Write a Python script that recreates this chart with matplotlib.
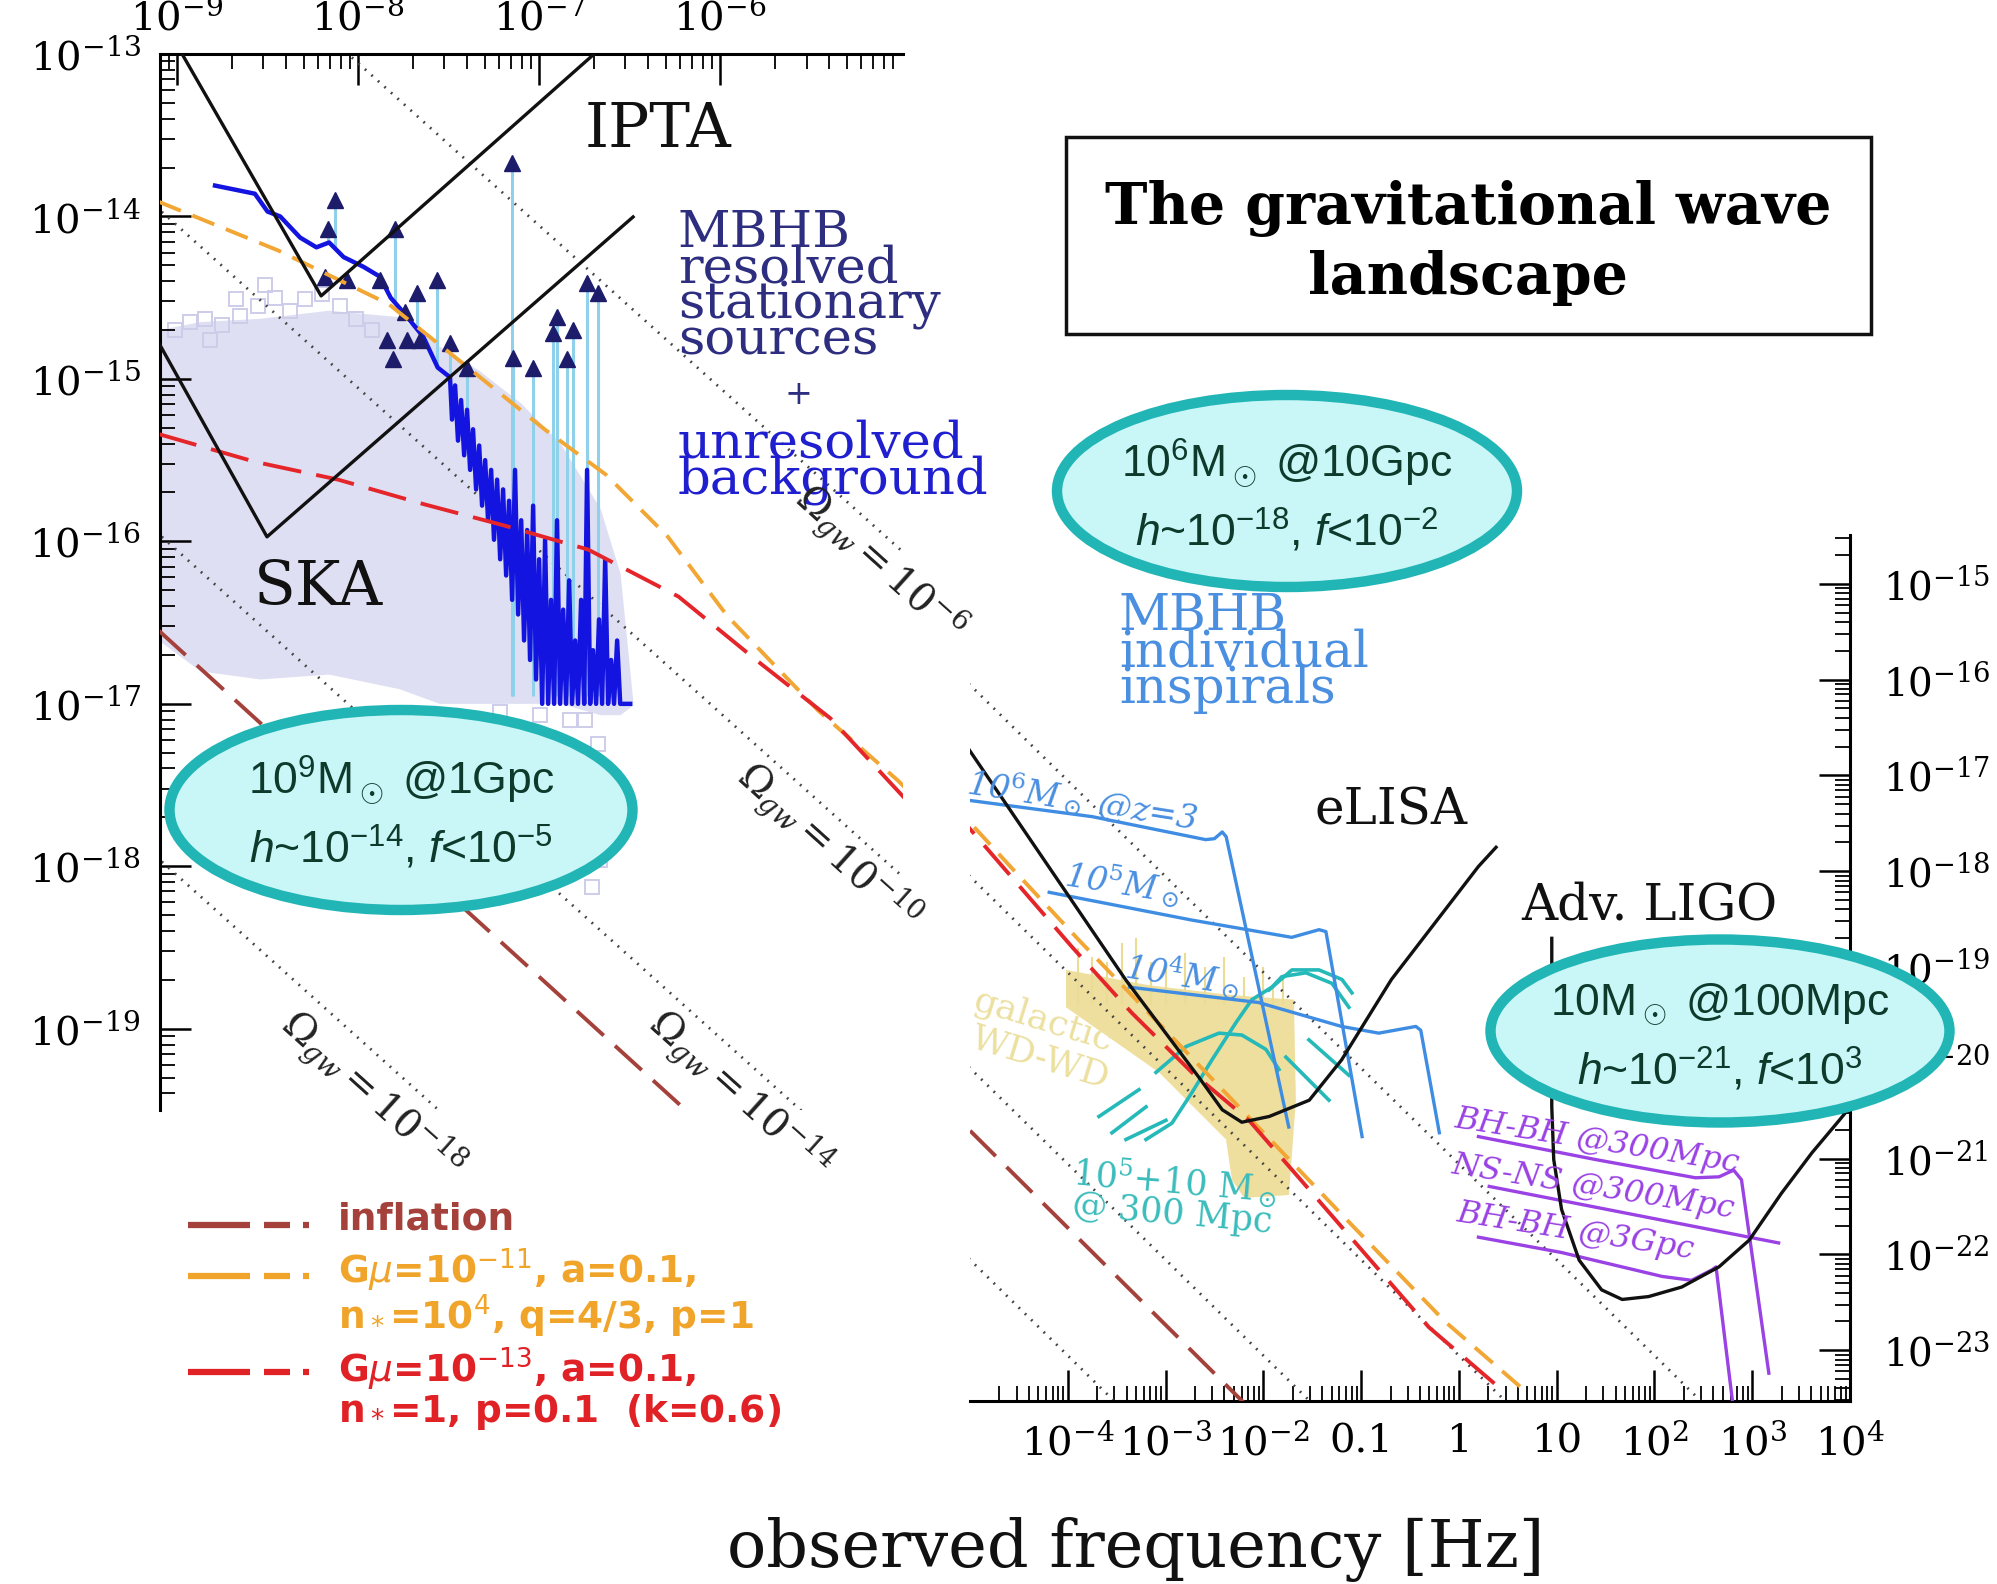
import numpy as np
import matplotlib
matplotlib.use('Agg')
import matplotlib.pyplot as plt
from matplotlib.patches import Ellipse, Rectangle
from matplotlib.ticker import FixedLocator, FixedFormatter, LogLocator, NullFormatter

plt.rcParams['font.family'] = ['DejaVu Serif']
plt.rcParams['mathtext.fontset'] = 'dejavuserif'
plt.rcParams['mathtext.rm'] = 'Liberation Sans'
plt.rcParams['mathtext.it'] = 'Liberation Sans:italic'
plt.rcParams['mathtext.bf'] = 'Liberation Sans:bold'
plt.rcParams['lines.scale_dashes'] = False

W, H = 1997, 1584

# ---- data (log10 of frequency [Hz] and characteristic strain) ----
# lines of constant Omega_gw (h ~ 1/f), values at the two ends
omega_f = [1e-10, 1e5]
omega_h = [[8.8e-12, 8.8e-27], [8.8e-14, 8.8e-29], [8.8e-16, 8.8e-31], [8.8e-18, 8.8e-33]]
omega_names = ['10^{-6}', '10^{-10}', '10^{-14}', '10^{-18}']

infl_lf = [-9.1, -2.0]
infl_lh = [-16.55, -23.75]

orng_lf = [-9.10, -8.44, -7.83, -7.37, -6.97, -6.63, -6.29, -5.96, -5.46, -5.02, -4.57, -3.885, -2.249, -1.145, -0.143, 0.716]
orng_lh = [-13.91, -14.21, -14.54, -14.95, -15.31, -15.59, -15.97, -16.46, -17.04, -17.47, -17.97, -18.72, -20.46, -21.64, -22.70, -23.46]

red_lf = [-9.10, -8.57, -8.11, -7.64, -7.20, -6.73, -6.23, -5.79, -5.39, -4.99, -3.957, -3.344, -2.730, -2.147, -0.307, 0.48]
red_lh = [-15.34, -15.51, -15.62, -15.77, -15.90, -16.05, -16.34, -16.74, -17.09, -17.57, -18.79, -19.48, -20.10, -20.60, -22.76, -23.45]

# PTA sensitivities
ipta_lf = [-8.972, -8.204, -6.696]
ipta_lh = [-13.0, -14.489, -13.0]
ska_lf = [-9.20, -8.503, -6.481]
ska_lh = [-14.58, -15.972, -14.003]

# unresolved MBHB population cloud
lav_lf = [-9.10, -8.87, -8.54, -8.16, -7.77, -7.55, -7.33, -7.10, -6.88, -6.66, -6.55, -6.48]
lav_up = [-14.70, -14.65, -14.63, -14.58, -14.62, -14.80, -14.95, -15.15, -15.40, -15.80, -16.20, -16.98]
lav_lo = [-16.61, -16.80, -16.85, -16.82, -16.91, -17.00, -17.00, -17.00, -17.00, -17.07, -17.07, -17.01]
sq_lf = [-9.011, -8.928, -8.845, -8.751, -8.652, -8.552, -8.459, -8.376, -8.293, -8.199, -8.099, -8.011,
         -7.923, -8.674, -8.514, -8.818, -6.746, -6.674, -6.635, -6.718, -6.608, -6.691, -6.663, -6.707,
         -6.829, -6.994, -7.215]
sq_lh = [-14.70, -14.65, -14.63, -14.67, -14.61, -14.55, -14.50, -14.58, -14.51, -14.48, -14.55, -14.63,
         -14.70, -14.51, -14.42, -14.76, -17.10, -17.25, -17.41, -17.53, -17.59, -17.81, -17.96, -18.13,
         -17.10, -17.07, -17.05]

# MBHB spectrum (unresolved background, jagged at high f)
bg_lf = [-8.79, -8.57, -8.50, -8.43, -8.32, -8.23, -8.16, -8.08, -7.97, -7.88, -7.82, -7.75, -7.64, -7.56, -7.492,
         -7.481, -7.464, -7.448, -7.431, -7.414, -7.398, -7.381, -7.365, -7.348, -7.331, -7.315, -7.298,
         -7.282, -7.265, -7.249, -7.232, -7.215, -7.199, -7.182, -7.166, -7.149, -7.133, -7.116, -7.099,
         -7.083, -7.066, -7.050, -7.033, -7.017, -7.000, -6.983, -6.967, -6.950, -6.934, -6.917, -6.901,
         -6.884, -6.867, -6.851, -6.834, -6.818, -6.801, -6.785, -6.768, -6.751, -6.735, -6.718, -6.702,
         -6.685, -6.669, -6.652, -6.635, -6.619, -6.602, -6.586, -6.569, -6.552, -6.497]
bg_lh = [-13.81, -13.86, -13.97, -14.00, -14.13, -14.19, -14.16, -14.25, -14.31, -14.37, -14.50, -14.59, -14.74, -14.93, -14.99,
         -15.25, -15.04, -15.38, -15.13, -15.47, -15.19, -15.56, -15.31, -15.68, -15.41, -15.78, -15.50,
         -15.87, -15.56, -15.99, -15.62, -16.11, -15.68, -16.21, -15.75, -16.36, -15.56, -16.45, -15.87,
         -16.61, -15.93, -16.73, -15.78, -16.85, -16.11, -17.00, -15.99, -17.00, -16.36, -17.00, -15.87,
         -17.00, -16.42, -17.00, -16.24, -17.00, -16.61, -17.00, -16.36, -17.00, -15.56, -17.00, -16.67,
         -17.00, -16.48, -17.00, -16.11, -17.00, -16.73, -17.00, -16.61, -17.00, -17.00]

# resolved MBHB sources (triangles) and where their stems end
tri_lf = [-8.127, -8.166, -7.796, -8.182, -8.061, -7.878, -7.564, -7.674, -7.740, -7.840, -7.729, -7.657,
          -7.807, -7.492, -7.144, -7.033, -7.398, -6.901, -6.923, -6.812, -6.845, -6.735, -6.674, -7.149]
tri_lh = [-13.90, -14.08, -14.08, -14.37, -14.39, -14.39, -14.39, -14.47, -14.59, -14.76, -14.76, -14.76,
          -14.88, -14.78, -14.87, -14.93, -14.93, -14.62, -14.72, -14.70, -14.88, -14.41, -14.47, -13.67]
tri_base = [-14.19, -14.17, -14.52, -14.37, -14.39, -14.39, -14.93, -14.70, -14.60, -14.76, -14.76, -14.76,
            -14.88, -15.00, -16.95, -16.95, -15.40, -16.95, -16.95, -16.95, -16.95, -16.95, -16.95, -16.95]

# eLISA and Adv. LIGO sensitivities
elisa_lf = [-5.01, -3.41, -2.66, -2.42, -2.22, -1.94, -1.53, -1.20, -0.69, 0.20, 0.38]
elisa_lh = [-16.73, -19.13, -20.15, -20.49, -20.62, -20.56, -20.39, -19.97, -19.13, -17.95, -17.75]
ligo_lf = [0.95, 0.95, 0.97, 1.05, 1.23, 1.46, 1.67, 1.94, 2.28, 2.66, 2.97, 3.30, 3.61, 3.89, 4.05]
ligo_lh = [-18.70, -20.46, -21.01, -21.53, -22.06, -22.37, -22.47, -22.44, -22.34, -22.13, -21.85, -21.36, -20.94, -20.60, -20.40]

# MBHB inspiral tracks
mb6_lf = [-5.01, -3.75, -2.59, -2.50, -2.42, -2.38, -1.74]
mb6_lh = [-17.26, -17.43, -17.67, -17.66, -17.59, -17.64, -20.67]
mb5_lf = [-4.19, -2.73, -1.71, -1.43, -1.36, -0.99]
mb5_lh = [-18.22, -18.51, -18.69, -18.61, -18.63, -20.77]
mb4_lf = [-3.37, -2.05, -1.20, -0.82, -0.44, -0.39, -0.20]
mb4_lh = [-19.21, -19.37, -19.62, -19.69, -19.62, -19.66, -20.73]

# EMRI tracks (10^5 + 10 Msun)
emri_lf = [[-3.098, -2.791, -2.454, -2.219, -1.973, -1.840],
           [-3.200, -2.935, -2.730, -2.526, -2.280, -2.117, -1.912, -1.810, -1.564, -1.299, -1.125],
           [-1.943, -1.708, -1.431, -1.196, -1.094],
           [-3.681, -3.272], [-3.548, -3.200], [-3.405, -2.996], [-1.769, -1.329], [-1.534, -1.125]]
emri_lh = [[-20.10, -19.83, -19.69, -19.71, -19.86, -20.07],
           [-20.80, -20.63, -20.31, -19.97, -19.58, -19.34, -19.21, -19.10, -19.06, -19.17, -19.42],
           [-19.24, -19.03, -19.03, -19.13, -19.27],
           [-20.56, -20.28], [-20.73, -20.46], [-20.80, -20.60], [-19.94, -20.39], [-19.76, -20.13]]

# galactic WD-WD foreground
wd_lf = [-4.018, -3.170, -2.352, -1.687, -1.667, -1.738, -2.198, -2.321, -2.382, -3.067, -4.018]
wd_lh = [-19.03, -19.19, -19.29, -19.34, -20.39, -21.38, -21.41, -21.22, -20.80, -20.10, -19.42]
wd_spk_lf = [-3.9, -3.75, -3.6, -3.45, -3.3, -3.15, -3.0, -2.8, -2.6, -2.4, -2.2, -2.0, -1.9, -1.8]
wd_spk_lh = [-18.80, -18.90, -18.95, -18.75, -18.70, -18.95, -19.00, -18.85, -19.00, -18.90, -19.10, -19.00, -19.20, -19.10]

# stellar-mass binaries
bh300_lf = [0.20, 1.40, 2.42, 2.66, 2.81, 2.89, 3.17]
bh300_lh = [-20.77, -21.01, -21.20, -21.19, -21.12, -21.22, -23.24]
ns300_lf = [0.31, 3.27]
ns300_lh = [-21.29, -21.88]
bh3g_lf = [0.20, 1.05, 2.08, 2.38, 2.59, 2.63, 2.80]
bh3g_lh = [-21.82, -21.98, -22.23, -22.27, -22.16, -22.13, -23.55]

right_xlabels = ['$10^{-4}$', '$10^{-3}$', '$10^{-2}$', '0.1', '1', '10', '$10^2$', '$10^3$', '$10^4$']


def P(a):
    return 10.0 ** np.asarray(a)


fig = plt.figure(figsize=(W / 100, H / 100), dpi=100)
ax1 = fig.add_axes([160 / W, 1 - 1110 / H, 743 / W, 1056 / H])
ax2 = fig.add_axes([970 / W, 1 - 1401 / H, 880 / W, 866 / H])

for ax in (ax1, ax2):
    ax.set_xscale('log')
    ax.set_yscale('log')
    ax.set_facecolor('none')
    for hh in omega_h:
        ax.plot(omega_f, hh, color='#444444', lw=2.0, dashes=(1.3, 5), zorder=2)
    ax.plot(P(infl_lf), P(infl_lh), color='#a4413b', lw=2.8, dashes=(26, 11), zorder=3)

# left panel (PTA)
ax1.fill(P(lav_lf + lav_lf[::-1]), P(lav_up + lav_lo[::-1]), color='#dfdff3', lw=0, zorder=1)
ax1.plot(P(sq_lf), P(sq_lh), 's', mfc='none', mec='#cdcdea', ms=10, mew=1.4, zorder=1)
ax1.vlines(P(tri_lf), P(tri_base), P(tri_lh), color='#8fd1ea', lw=2.2, zorder=4)
ax1.plot(P(bg_lf), P(bg_lh), color='#1414e0', lw=3.2, zorder=5)
ax1.plot(P(tri_lf), P(tri_lh), '^', color='#1c1c6b', ms=12, zorder=6)
ax1.plot(P(ipta_lf), P(ipta_lh), color='#111111', lw=2.4, zorder=7)
ax1.plot(P(ska_lf), P(ska_lh), color='#111111', lw=2.4, zorder=7)

for ax in (ax1, ax2):
    ax.plot(P(orng_lf), P(orng_lh), color='#f2a634', lw=2.8, dashes=(17, 9), zorder=6)
    ax.plot(P(red_lf), P(red_lh), color='#e4262b', lw=2.8, dashes=(28, 11), zorder=6)

# right panel (LISA / LIGO)
ax2.fill(P(wd_lf), P(wd_lh), color='#e9d275', alpha=0.7, lw=0, zorder=1)
ax2.vlines(P(wd_spk_lf), P(wd_spk_lh), 10 ** -19.4, color='#eadb95', lw=1.5, zorder=1)
for lf, lh in zip(emri_lf, emri_lh):
    ax2.plot(P(lf), P(lh), color='#25b9b9', lw=2.6, zorder=5)
for lf, lh in [(mb6_lf, mb6_lh), (mb5_lf, mb5_lh), (mb4_lf, mb4_lh)]:
    ax2.plot(P(lf), P(lh), color='#3f8de3', lw=2.4, zorder=5)
for lf, lh in [(bh300_lf, bh300_lh), (ns300_lf, ns300_lh), (bh3g_lf, bh3g_lh)]:
    ax2.plot(P(lf), P(lh), color='#9a42e4', lw=2.4, zorder=5)
ax2.plot(P(elisa_lf), P(elisa_lh), color='#111111', lw=2.4, zorder=7)
ax2.plot(P(ligo_lf), P(ligo_lh), color='#111111', lw=2.4, zorder=7)

# axes styling
ax1.set_xlim(10 ** -9.094, 10 ** -4.99)
ax1.set_ylim(10 ** -19.5, 1e-13)
ax1.spines[['right', 'bottom']].set_visible(False)
ax1.xaxis.set_ticks_position('top')
ax1.xaxis.set_major_locator(FixedLocator(10.0 ** np.arange(-9, -5)))
ax1.yaxis.set_major_locator(FixedLocator(10.0 ** np.arange(-19, -12)))

ax2.set_xlim(1e-5, 1e4)
ax2.set_ylim(10 ** -23.53, 10 ** -14.49)
ax2.spines[['left', 'top']].set_visible(False)
ax2.yaxis.set_ticks_position('right')
ax2.xaxis.set_major_locator(FixedLocator(10.0 ** np.arange(-4, 5)))
ax2.xaxis.set_major_formatter(FixedFormatter(right_xlabels))
ax2.yaxis.set_major_locator(FixedLocator(10.0 ** np.arange(-23, -14)))

for ax in (ax1, ax2):
    for a in (ax.xaxis, ax.yaxis):
        a.set_minor_locator(LogLocator(base=10, subs=np.arange(2, 10), numticks=100))
        a.set_minor_formatter(NullFormatter())
    ax.tick_params(which='major', direction='in', length=22, width=1.8, labelsize=29)
    ax.tick_params(which='minor', direction='in', length=11, width=1.3)
    for s in ax.spines.values():
        s.set_linewidth(2.2)

ax1.tick_params(axis='x', which='major', pad=12)
ax1.tick_params(axis='y', which='major', pad=14)
ax2.tick_params(axis='x', which='major', pad=16)
ax2.tick_params(axis='y', which='major', pad=24, labelsize=28)

# ---- annotation layer in pixel coordinates ----
ov = fig.add_axes([0, 0, 1, 1])
ov.set_xlim(0, W)
ov.set_ylim(H, 0)
ov.axis('off')

ov.text(658, 130, 'IPTA', fontsize=44, ha='center', va='center', color='#111111')
ov.text(318, 588, 'SKA', fontsize=44, ha='center', va='center', color='#111111')

ov.text(678, 287, 'MBHB\nresolved\nstationary\nsources', fontsize=37, linespacing=0.64,
        ha='left', va='center', color='#2e2e80')
ov.text(798, 395, '+', fontsize=24, ha='center', va='center', color='#2e2e80')
ov.text(678, 462, 'unresolved\nbackground', fontsize=37, linespacing=0.64,
        ha='left', va='center', color='#1f1fd0')
ov.text(1119, 653, 'MBHB\nindividual\ninspirals', fontsize=36, linespacing=0.66,
        ha='left', va='center', color='#4a8fe0')

ov.text(1391, 811, 'eLISA', fontsize=36, ha='center', va='center', color='#111111')
ov.text(1649, 906, 'Adv. LIGO', fontsize=36, ha='center', va='center', color='#111111')

for s, x, y in [(r'10$^6$M$_\odot$ @z=3', 1082, 800), (r'10$^5$M$_\odot$', 1123, 883), (r'10$^4$M$_\odot$', 1183, 975)]:
    ov.text(x, y, s, fontsize=24, style='italic', rotation=-9, ha='center', va='center',
            color='#4a8fe0', rotation_mode='anchor')
ov.text(1043, 1021, 'galactic', fontsize=26, rotation=-17, ha='center', va='center', color='#ece0a0',
        rotation_mode='anchor')
ov.text(1040, 1058, 'WD-WD', fontsize=26, rotation=-17, ha='center', va='center', color='#ece0a0',
        rotation_mode='anchor')
ov.text(1174, 1196, '10$^5$+10 M$_\\odot$\n@ 300 Mpc', fontsize=25, rotation=-5, linespacing=0.8,
        ha='center', va='center', color='#3cbcbc', rotation_mode='anchor')
for s, x, y in [('BH-BH @300Mpc', 1597, 1141), ('NS-NS @300Mpc', 1593, 1187), ('BH-BH @3Gpc', 1575, 1231)]:
    ov.text(x, y, s, fontsize=23, style='italic', rotation=-9, ha='center', va='center', color='#9a42e4',
            rotation_mode='anchor')

for name, (x, y) in zip(omega_names, [(880, 563), (828, 847), (739, 1095), (372, 1095)]):
    ov.text(x, y, r'$\Omega_{gw}=' + name + '$', fontsize=28, rotation=-42, ha='center', va='center',
            color='#222222', rotation_mode='anchor')

# title box
ov.add_patch(Rectangle((1066, 137), 805, 197, fill=False, lw=2.5, ec='#111111'))
ov.text(1468, 243, 'The gravitational wave\nlandscape', fontsize=41, fontweight='bold', linespacing=1.3,
        ha='center', va='center')

# highlighted source ellipses
ell = [((401, 810), 463, 200, '10$^9$M$_\\odot$ @1Gpc\n$h$~10$^{-14}$, $f$<10$^{-5}$', 813),
       ((1287, 491), 460, 192, '10$^6$M$_\\odot$ @10Gpc\n$h$~10$^{-18}$, $f$<10$^{-2}$', 496),
       ((1720, 1031), 459, 183, '10M$_\\odot$ @100Mpc\n$h$~10$^{-21}$, $f$<10$^3$', 1038)]
for (c, w, h, txt, yc) in ell:
    ov.add_patch(Ellipse(c, w, h, facecolor='#c9f6f6', edgecolor='#21b5b5', lw=7.5, zorder=10))
    ov.text(c[0], yc, txt, fontsize=32, family='Liberation Sans', math_fontfamily='custom', linespacing=1.45,
            ha='center', va='center', color='#0d3a2b', zorder=11)

# legend for the cosmological backgrounds
leg = [('#a4413b', 1225, 'inflation', 1220),
       ('#f0a52a', 1276, 'G$\\mu$=10$^{-11}$, a=0.1,\nn$_*$=10$^4$, q=4/3, p=1', 1293),
       ('#e02226', 1372, 'G$\\mu$=10$^{-13}$, a=0.1,\nn$_*$=1, p=0.1  (k=0.6)', 1389)]
for col, yl, txt, yt in leg:
    for x0, x1 in [(188, 250), (264, 290), (303, 309)]:
        ov.plot([x0, x1], [yl, yl], color=col, lw=4.5, solid_capstyle='butt')
    ov.text(338, yt, txt, fontsize=27, fontweight='bold', family='DejaVu Sans', math_fontfamily='dejavusans',
            linespacing=0.95, ha='left', va='center', color=col)

ov.text(1136, 1550, 'observed frequency [Hz]', fontsize=47, ha='center', va='center', color='#111111')

fig.savefig('out.png', dpi=100)
